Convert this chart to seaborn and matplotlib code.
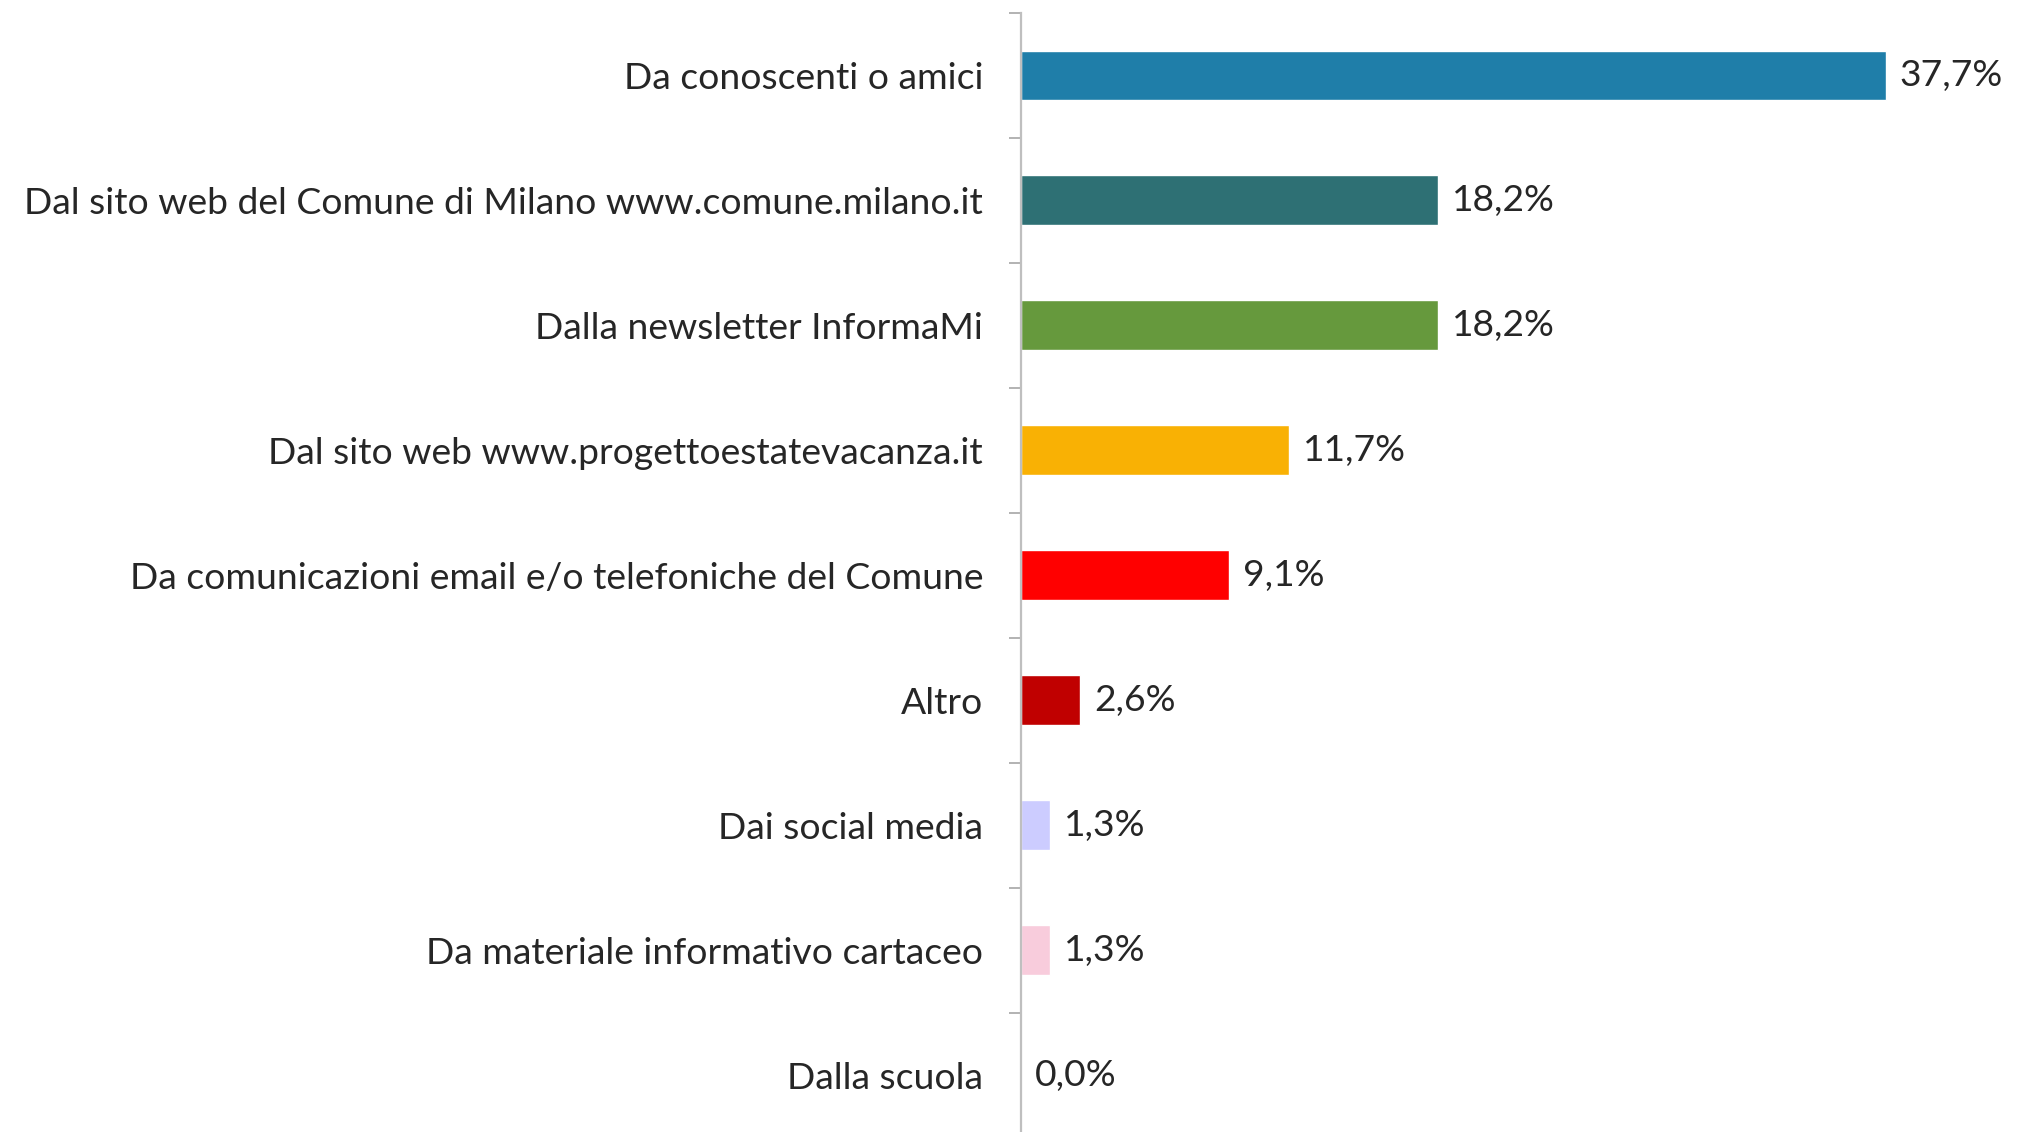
import pandas as pd
import seaborn as sns
import matplotlib.pyplot as plt

# categories and values
categorie = ['Da conoscenti o amici',
             'Dal sito web del Comune di Milano www.comune.milano.it',
             'Dalla newsletter InformaMi',
             'Dal sito web www.progettoestatevacanza.it',
             'Da comunicazioni email e/o telefoniche del Comune',
             'Altro',
             'Dai social media',
             'Da materiale informativo cartaceo',
             'Dalla scuola']
valori = [37.7, 18.2, 18.2, 11.7, 9.1, 2.6, 1.3, 1.3, 0.0]
colori = ['#1F7EA9', '#2E7074', '#66993D', '#F9B104', '#FF0000',
          '#C00000', '#CCCCFF', '#F8CCDC', '#FFFFFF']

df = pd.DataFrame({'cat': categorie, 'val': valori})

sns.set_style('white')
plt.rcParams['font.family'] = ['Lato', 'DejaVu Sans']

fig = plt.figure(figsize=(20.37, 11.32), dpi=100)
ax = fig.add_axes([0.501, -0.005, 0.4507, 0.9935])

sns.barplot(data=df, x='val', y='cat', hue='cat', palette=colori,
            order=categorie, width=0.4, saturation=1, legend=False, ax=ax)

ax.set_xlim(0, 40)
ax.set_ylim(len(categorie) - 0.5, -0.5)
ax.set_xlabel('')
ax.set_ylabel('')
ax.set_xticks([])

for s in ['top', 'right', 'bottom']:
    ax.spines[s].set_visible(False)
ax.spines['left'].set_color('#BFBFBF')
ax.spines['left'].set_linewidth(1.6)

# labels at the centers, tick marks at the boundaries
ax.tick_params(axis='y', which='major', length=0, pad=27, labelsize=26.8)
ax.set_yticks([i - 0.5 for i in range(len(categorie) + 1)], minor=True)
ax.tick_params(axis='y', which='minor', length=9, width=1.2, color='#A6A6A6',
               direction='out', left=True)

for c in ax.containers:
    ax.bar_label(c, labels=[f'{v:.1f}%'.replace('.', ',') for v in c.datavalues],
                 padding=10, fontsize=26.8)

fig.savefig('out.png', dpi=100)
